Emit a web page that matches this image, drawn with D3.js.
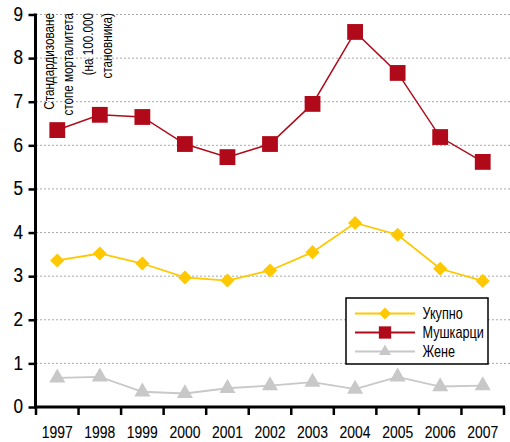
<!DOCTYPE html>
<html>
<head>
<meta charset="utf-8">
<script src="https://cdn.jsdelivr.net/npm/d3@7"></script>
<style>
  html, body { margin: 0; padding: 0; background: #fff; }
  svg { display: block; font-family: "Liberation Sans", Arial, sans-serif; }
</style>
</head>
<body>
<svg id="chart" width="510" height="442"></svg>
<script>
// Standardised mortality rates per 100,000 inhabitants, 1997–2007
const years = ["1997","1998","1999","2000","2001","2002","2003","2004","2005","2006","2007"];
const total = [3.36, 3.52, 3.29, 2.97, 2.90, 3.13, 3.55, 4.22, 3.95, 3.17, 2.89];
const men   = [6.35, 6.70, 6.65, 6.03, 5.73, 6.03, 6.95, 8.60, 7.66, 6.19, 5.62];
const women = [0.67, 0.69, 0.35, 0.31, 0.43, 0.49, 0.57, 0.41, 0.69, 0.47, 0.49];
const yTicks = [0, 1, 2, 3, 4, 5, 6, 7, 8, 9];
const seriesNames = ["Укупно", "Мушкарци", "Жене"];
const titleLines = ["Стандардизоване", "стопе морталитета", "(на 100.000", "становника)"];

const colors = { total: "#ffc800", men: "#b00a1a", women: "#c8c8c8" };

const svg = d3.select("#chart");
const plotLeft = 36, plotRight = 504, plotTop = 14.5, plotBottom = 407;

const x = d3.scaleBand().domain(years).range([plotLeft, plotRight]).padding(0);
const y = d3.scaleLinear().domain([0, 9]).range([plotBottom, plotTop]);
const cx = d => x(d) + x.bandwidth() / 2;

// condensed-looking text: horizontal squeeze in the text's own frame
function narrowText(parent, tx, ty, rot, sx, str, size, anchor, weight) {
  return parent.append("text")
    .attr("transform", `translate(${tx},${ty}) rotate(${rot}) scale(${sx},1)`)
    .attr("text-anchor", anchor)
    .attr("font-size", size)
    .attr("fill", "#000")
    .attr("stroke", "#000")
    .attr("stroke-width", weight || 0)
    .text(str);
}

// dotted gridlines
svg.append("g").selectAll("line")
  .data(yTicks.filter(t => t > 0))
  .join("line")
  .attr("x1", plotLeft).attr("x2", 510)
  .attr("y1", d => y(d)).attr("y2", d => y(d))
  .attr("stroke", "#a8a8a8").attr("stroke-width", 1)
  .attr("stroke-dasharray", "2,2");

// axis title, rotated inside the plot
const title = svg.append("g");
titleLines.forEach((t, i) => {
  narrowText(title, 53.5 + i * 19.6, plotTop - 1.5, -90, 0.78, t, 15, "end");
});

// y axis
const yAxis = svg.append("g")
  .attr("transform", `translate(${plotLeft - 0.5},0)`)
  .call(d3.axisLeft(y).tickValues(yTicks).tickSize(7).tickFormat(""));
yAxis.select(".domain").attr("stroke", "#000").attr("stroke-width", 3)
  .attr("d", `M0,${plotTop - 1}V${plotBottom}`);
yAxis.selectAll(".tick line").attr("stroke", "#000").attr("stroke-width", 2.5);
const yLabels = svg.append("g");
yTicks.forEach(t => {
  narrowText(yLabels, 23, y(t) + 6.2, 0, 0.88, d3.format("d")(t), 19.5, "end", 0.15);
});

// x axis: ticks at band boundaries
const xAxisG = svg.append("g").attr("transform", `translate(0,${plotBottom})`);
xAxisG.append("line")
  .attr("x1", plotLeft - 2).attr("x2", plotRight + 1)
  .attr("y1", 0).attr("y2", 0)
  .attr("stroke", "#000").attr("stroke-width", 3);
const bounds = years.map(d => x(d)).concat([x(years[years.length - 1]) + x.bandwidth()]);
xAxisG.selectAll("line.tk").data(bounds).join("line").attr("class", "tk")
  .attr("x1", d => d).attr("x2", d => d)
  .attr("y1", 0).attr("y2", 8)
  .attr("stroke", "#000").attr("stroke-width", 2.5);
years.forEach(yr => {
  narrowText(xAxisG, cx(yr), 30.8, 0, 0.82, yr, 17, "middle", 0.1);
});

const line = d3.line().x((d, i) => cx(years[i])).y(d => y(d));

function drawSeries(values, color, width, shape, size, rot) {
  const g = svg.append("g");
  g.append("path").datum(values)
    .attr("d", line).attr("fill", "none")
    .attr("stroke", color).attr("stroke-width", width);
  g.selectAll("path.m").data(values).join("path").attr("class", "m")
    .attr("transform", (d, i) => `translate(${cx(years[i])},${y(d)}) rotate(${rot})`)
    .attr("d", d3.symbol().type(shape).size(size))
    .attr("fill", color);
}

drawSeries(women, colors.women, 1.8, d3.symbolTriangle, 112, 0);
drawSeries(total, colors.total, 1.8, d3.symbolSquare, 100, 45);
drawSeries(men, colors.men, 1.5, d3.symbolSquare, 250, 0);

// legend
const lg = svg.append("g").attr("transform", "translate(346,298)");
lg.append("rect").attr("x", 0).attr("y", 0).attr("width", 142).attr("height", 66)
  .attr("fill", "#fff").attr("stroke", "#000").attr("stroke-width", 1.5);
const legendItems = [
  { name: seriesNames[0], color: colors.total, shape: d3.symbolSquare, size: 70, rot: 45 },
  { name: seriesNames[1], color: colors.men, shape: d3.symbolSquare, size: 151, rot: 0 },
  { name: seriesNames[2], color: colors.women, shape: d3.symbolTriangle, size: 64, rot: 0 }
];
legendItems.forEach((it, i) => {
  const yy = 15.5 + i * 19;
  lg.append("line").attr("x1", 9).attr("x2", 69).attr("y1", yy).attr("y2", yy)
    .attr("stroke", it.color).attr("stroke-width", 1.8);
  lg.append("path").attr("transform", `translate(39,${yy}) rotate(${it.rot})`)
    .attr("d", d3.symbol().type(it.shape).size(it.size)).attr("fill", it.color);
  narrowText(lg, 76.5, yy + 5.4, 0, 0.79, it.name, 16, "start");
});
</script>
</body>
</html>
